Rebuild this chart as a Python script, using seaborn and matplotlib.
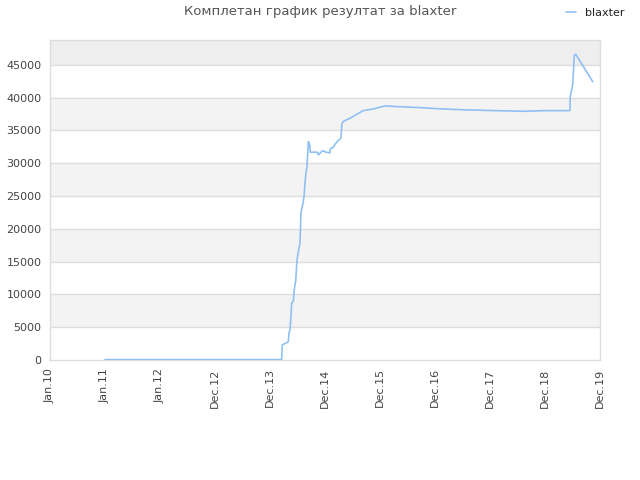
import matplotlib
matplotlib.use("Agg")
import matplotlib.pyplot as plt
import matplotlib.dates as mdates
import seaborn as sns
import pandas as pd
import numpy as np

dates = ["2010-12-29", "2014-03-06", "2014-03-10", "2014-04-08", "2014-04-19", "2014-04-23",
         "2014-04-30", "2014-05-07", "2014-05-11", "2014-05-22", "2014-05-28", "2014-06-07",
         "2014-06-15", "2014-06-26", "2014-07-05", "2014-07-11", "2014-07-25", "2014-07-31",
         "2014-08-07", "2014-08-13", "2014-08-20", "2014-08-29", "2014-09-07", "2014-09-11",
         "2014-10-29", "2014-11-02", "2014-12-01", "2014-12-23", "2015-01-18", "2015-01-22",
         "2015-02-10", "2015-02-20", "2015-04-01", "2015-04-07", "2015-04-21", "2015-05-30",
         "2015-07-13", "2015-08-26", "2015-10-31", "2016-01-15", "2016-04-02", "2016-09-02",
         "2017-01-23", "2017-07-06", "2018-01-09", "2018-07-14", "2018-12-15", "2019-05-17",
         "2019-05-19", "2019-06-04", "2019-06-15", "2019-06-24", "2019-10-14"]
scores = [60, 60, 2300, 2640, 2800, 4070,
          4580, 6860, 8640, 9040, 10680, 12200,
          15250, 16780, 17850, 22420, 23950, 24900,
          27000, 28520, 29490, 33300, 32800, 31690,
          31690, 31270, 31930, 31690, 31600, 32290,
          32440, 32900, 33900, 36100, 36450, 36860,
          37470, 38030, 38290, 38750, 38640, 38490,
          38290, 38140, 38030, 37930, 38030, 38030,
          40160, 41940, 46520, 46630, 42450]
series_name = "blaxter"
title = "Комплетан график резултат за blaxter"
x_tick_labels = ["Jan.10", "Jan.11", "Jan.12", "Dec.12", "Dec.13", "Dec.14",
                 "Dec.15", "Dec.16", "Dec.17", "Dec.18", "Dec.19"]
y_ticks = [0, 5000, 10000, 15000, 20000, 25000, 30000, 35000, 40000, 45000]
x_start, x_end = "2010-01-01", "2019-12-01"
y_max = 48800

df = pd.DataFrame({"date": pd.to_datetime(dates), "score": scores, "name": series_name})

sns.set_theme(style="white")
plt.rcParams['font.family'] = ['DejaVu Sans']

fig = plt.figure(figsize=(6.4, 4.8), dpi=100)
ax = fig.add_axes([50/640, 1 - 360/480, 550/640, 320/480])

# background bands
for lo in range(5000, 45000, 10000):
    ax.axhspan(lo, lo + 5000, color="#f3f3f3", zorder=0, lw=0)
ax.axhspan(45000, y_max, color="#eeeeee", zorder=0, lw=0)
for t in y_ticks[1:]:
    ax.axhline(t, color="#dddddd", lw=1, zorder=1)

sns.lineplot(data=df, x="date", y="score", hue="name", palette=["#8fc0f2"],
             linewidth=1.2, ax=ax, legend=True, zorder=3)

xs = mdates.date2num(pd.to_datetime(x_start))
xe = mdates.date2num(pd.to_datetime(x_end))
ax.set_xlim(xs, xe)
ax.set_ylim(0, y_max)
ax.set_xticks(np.linspace(xs, xe, len(x_tick_labels)))
ax.set_xticklabels(x_tick_labels, rotation=90, fontsize=8, color="#444444")
ax.set_yticks(y_ticks)
ax.set_yticklabels([str(v) for v in y_ticks], fontsize=8, color="#444444")
ax.tick_params(axis="both", length=0, pad=6)
ax.set_xlabel("")
ax.set_ylabel("")
for s in ax.spines.values():
    s.set_color("#dddddd")
    s.set_linewidth(1)

h, l = ax.get_legend_handles_labels()
ax.get_legend().remove()
fig.legend(h, l, loc="upper right", bbox_to_anchor=(1.0 - 8/640, 1.0), frameon=False,
           fontsize=8, handlelength=0.9, handletextpad=0.8, borderaxespad=0.3,
           labelcolor="#222222")

fig.text(0.5, 1 - 12/480, title, ha="center", va="center", fontsize=9.5, color="#555555")

fig.savefig("out.png", dpi=100)
